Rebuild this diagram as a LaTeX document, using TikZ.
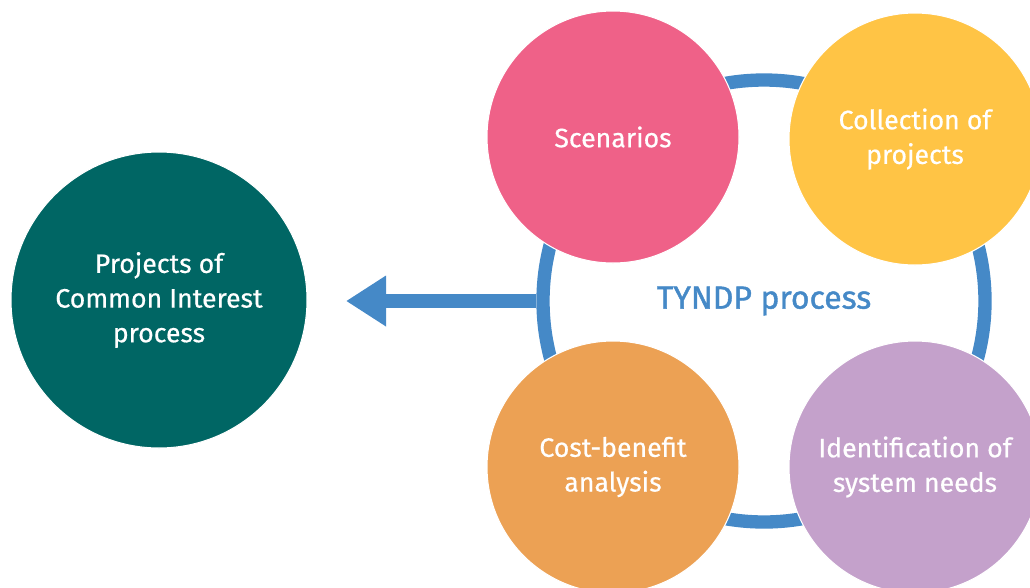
\documentclass[tikz,border=0pt]{standalone}
\usepackage{fontspec}
\setmainfont{Fira Sans}
\newfontfamily\stagefont{Fira Sans}[FakeBold=0.5]
\newfontfamily\ringfont{Fira Sans}[FakeBold=1.3]
\usetikzlibrary{arrows.meta}

\definecolor{scenpink}{RGB}{239,97,136}
\definecolor{collyellow}{RGB}{255,196,69}
\definecolor{cbaorange}{RGB}{236,161,84}
\definecolor{needspurple}{RGB}{196,161,203}
\definecolor{pciteal}{RGB}{0,102,100}
\definecolor{tyndpblue}{RGB}{69,137,199}

\tikzset{
  stage/.style={circle, draw=white, line width=0.8pt, minimum size=189pt, inner sep=0pt,
    text=white, align=center, font=\stagefont\fontsize{20}{26}\selectfont},
  flow/.style={draw=tyndpblue, line width=10pt, -{Triangle[length=30pt,width=36pt]}}
}

\begin{document}
\begin{tikzpicture}[x=0.75pt,y=0.75pt,yscale=-1,xscale=1]
\useasboundingbox (0,0) rectangle (1030,587);

%Shape: Circle (process ring)
\node [circle, draw=tyndpblue, line width=10pt, minimum size=331.5pt, inner sep=0pt,
  text=tyndpblue, font=\ringfont\fontsize{24}{28}\selectfont] (ring) at (764,301) {TYNDP process};

%Straight Lines (hand over to PCI)
\coordinate (pcitip) at (346,301);
\draw [flow] (ring.west) -- (pcitip);

%Shape: Circle (PCI)
\node [stage, fill=pciteal, minimum size=222pt] (pci) at (159,300) {Projects of\\Common Interest\\process};

%Shape: Circle (four stages)
\node [stage, fill=scenpink] (scen) at (613,137) {Scenarios};
\node [stage, fill=collyellow] (coll) at (915,139) {Collection of\\projects};
\node [stage, fill=cbaorange] (cba) at (613,467) {Cost-benefit\\analysis};
\node [stage, fill=needspurple] (needs) at (915,467) {Identification of\\system needs};

\end{tikzpicture}
\end{document}
